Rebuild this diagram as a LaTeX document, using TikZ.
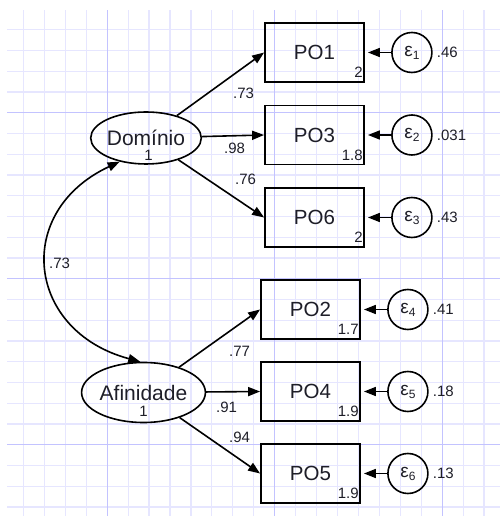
\documentclass[tikz,border=0pt]{standalone}
\usepackage{fontspec}
\setmainfont{Liberation Sans}
\usetikzlibrary{positioning,arrows.meta,calc,shapes.geometric}
\definecolor{gridminor}{RGB}{230,230,255}
\definecolor{gridmajor}{RGB}{195,195,255}
\definecolor{ink}{RGB}{30,30,40}
\newcommand{\epslab}[1]{ε\raisebox{-3pt}{\fontsize{12}{12}\selectfont #1}}

\begin{document}
\begin{tikzpicture}[x=1pt,y=1pt,
  latent/.style={ellipse,draw,line width=1.6pt,inner sep=0pt,text=ink,
    font=\fontsize{21}{24}\selectfont},
  obsbox/.style={rectangle,draw,line width=1.8pt,minimum width=99pt,
    minimum height=59pt,inner sep=0pt,text=ink,font=\fontsize{20.5}{24}\selectfont},
  errc/.style={circle,draw,line width=1.6pt,minimum size=40pt,inner sep=0pt,
    text=ink,font=\fontsize{19}{22}\selectfont},
  coef/.style={font=\fontsize{15}{18}\selectfont,text=ink,inner sep=0pt,anchor=west},
  meanlbl/.style={font=\fontsize{15}{18}\selectfont,text=ink,inner sep=0pt,anchor=base east},
  load/.style={line width=1.6pt,-{Triangle[length=12pt,width=9pt]}}]
\useasboundingbox (0,0) rectangle (500,516);
\foreach \k in {0,...,22}
  \draw[gridminor,line width=1.2pt] ({23.4+20.94*\k},0) -- ++(0,506);
\foreach \k in {0,...,23}
  \draw[gridminor,line width=1.2pt] (7,{486.2-20.75*\k}) -- (500,{486.2-20.75*\k});
\foreach \gx in {107.2,274.7,442.2}
  \draw[gridmajor,line width=1.2pt] (\gx,0) -- (\gx,506);
\foreach \gy in {403.2,237.2,71.2}
  \draw[gridmajor,line width=1.2pt] (7,\gy) -- (500,\gy);

\node[latent,minimum width=98pt,minimum height=52pt] (dom) at (146,378) {Domínio};
\node[latent,minimum width=99pt,minimum height=60pt] (aff) at (143.5,123.5) {Afinidade};
\node[meanlbl,anchor=base] (dom1) at ($(dom)+(2.5,-23)$) {1};
\node[meanlbl,anchor=base] (aff1) at ($(aff)+(0,-24.5)$) {1};

\foreach \nm/\lab/\x/\y/\mn/\ix/\res in {
  po1/PO1/314.5/463.5/2/1/.46,
  po3/PO3/314.5/381/1.8/2/.031,
  po6/PO6/314.5/298.5/2/3/.43,
  po2/PO2/310.5/206.5/1.7/4/.41,
  po4/PO4/310.5/124.5/1.9/5/.18,
  po5/PO5/310.5/42.5/1.9/6/.13}{
  \node[obsbox] (\nm) at (\x,\y) {\lab};
  \node[meanlbl] (\nm m) at ($(\nm.south east)+(-2,5)$) {\mn};
  \node[errc] (e\ix) at ($(\nm.east)+(47,0)$) {\epslab{\ix}};
  \node[coef] (v\ix) at ($(e\ix.east)+(4,0)$) {\res};
  \draw[load,shorten >=3pt] (e\ix) -- (\nm);
}

\draw[load] (dom) -- (po1.west);
\draw[load] (dom) -- (po3.west);
\draw[load] (dom) -- (po6.west);
\draw[load] (aff) -- (po2.west);
\draw[load] (aff) -- (po4.west);
\draw[load] (aff) -- (po5.west);
\node[coef] (l1) at (233,423) {.73};
\node[coef] (l2) at (224,368) {.98};
\node[coef] (l3) at (235,337) {.76};
\node[coef] (l4) at (229,165) {.77};
\node[coef] (l5) at (216,109) {.91};
\node[coef] (l6) at (229,79) {.94};

\draw[line width=1.6pt,{Triangle[length=12pt,width=9pt]}-{Triangle[length=12pt,width=9pt]}]
  (dom.222) to[out=205,in=165,looseness=1.5] (aff.96);
\node[coef] (lc) at (49,253) {.73};
\end{tikzpicture}
\end{document}
